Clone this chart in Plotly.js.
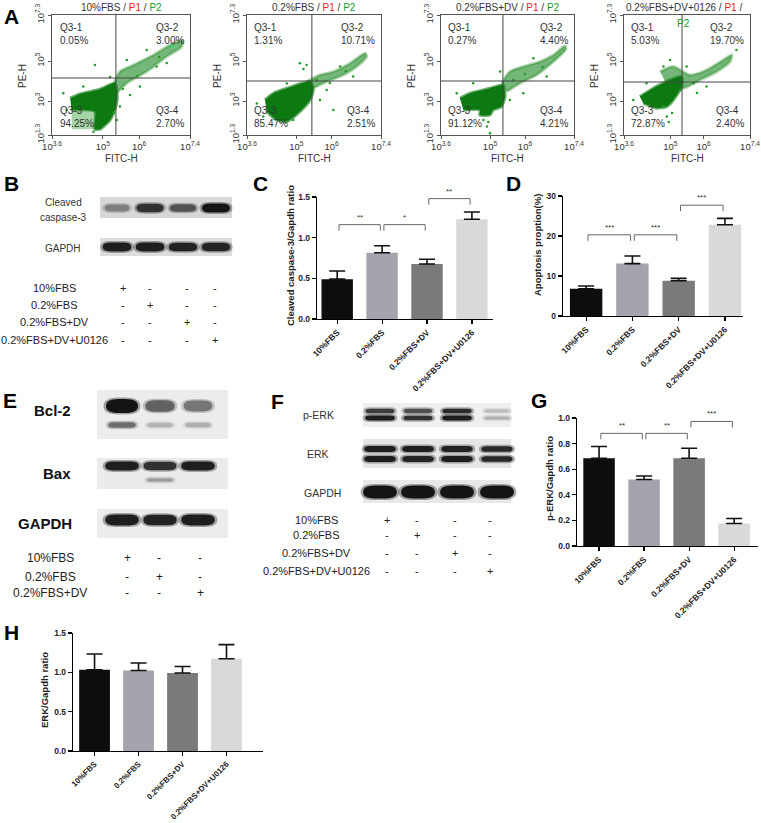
<!DOCTYPE html>
<html><head><meta charset="utf-8">
<script src="https://cdn.plot.ly/plotly-3.0.1.min.js"></script>
<style>html,body{margin:0;padding:0;background:#fff}#fig{width:761px;height:823px}</style>
</head><body><div id="fig"></div><script>
// ================= DATA =================
const flowTitles = ['10%FBS', '0.2%FBS', '0.2%FBS+DV', '0.2%FBS+DV+0126'];
const quadUL = ['0.05%', '1.31%', '0.27%', '5.03%'];
const quadUR = ['3.00%', '10.71%', '4.40%', '19.70%'];
const quadLL = ['94.25%', '85.47%', '91.12%', '72.87%'];
const quadLR = ['2.70%', '2.51%', '4.21%', '2.40%'];
const gateX = [5.36, 5.44, 5.37, 5.35];
const gateY = [4.15, 4.00, 4.00, 3.95];
const flowXTicks = [3.6, 5, 6, 7.4];
const flowXText = ['10<sup>3.6</sup>', '10<sup>5</sup>', '10<sup>6</sup>', '10<sup>7.4</sup>'];
const flowYTicks = [1.3, 3, 5, 7.3];
const flowYText = ['10<sup>1.3</sup>', '10<sup>3</sup>', '10<sup>5</sup>', '10<sup>7.3</sup>'];

// dense population outlines (log10 FITC, log10 PE)
const core1X = [4.10, 4.37, 4.92, 5.33, 5.40, 5.33, 5.20, 4.92, 4.78, 4.78, 4.14];
const core1Y = [3.14, 3.35, 3.59, 3.89, 3.22, 2.55, 2.05, 1.59, 1.59, 2.47, 2.55];
const light1X = [4.14, 4.80, 4.80, 4.14];
const light1Y = [2.55, 2.55, 1.59, 1.59];
const tail1X = [5.29, 5.47, 5.84, 6.39, 6.94, 7.20, 7.17, 6.76, 6.21, 5.66, 5.38];
const tail1Y = [3.80, 4.47, 4.80, 5.30, 5.89, 6.02, 5.72, 5.22, 4.47, 3.89, 3.39];
const dots1X = [3.91, 4.00, 5.38, 5.47, 4.74, 5.75, 6.02, 4.78, 5.20, 6.48, 6.76, 4.46, 5.66, 6.21, 5.55, 5.95, 6.55, 5.30];
const dots1Y = [3.39, 2.55, 2.05, 2.72, 1.46, 3.30, 3.72, 4.80, 4.20, 4.72, 4.90, 3.72, 5.05, 5.55, 3.60, 4.25, 5.20, 2.40];

const core2X = [4.11, 4.35, 4.82, 5.39, 5.48, 5.39, 5.10, 4.73, 4.44, 4.16];
const core2Y = [3.05, 3.39, 3.69, 3.97, 3.55, 3.05, 2.47, 1.97, 2.05, 2.47];
const tail2X = [5.29, 5.67, 6.05, 6.52, 6.95, 6.99, 6.71, 6.33, 5.86, 5.48];
const tail2Y = [3.97, 4.30, 4.47, 4.89, 5.39, 5.22, 4.72, 4.30, 3.97, 3.64];
const dots2X = [3.88, 4.06, 5.10, 5.29, 5.67, 6.05, 5.58, 4.91, 5.86, 6.61, 6.24, 4.73, 5.95, 6.40, 5.20];
const dots2Y = [2.88, 2.22, 4.89, 4.80, 3.05, 2.55, 4.05, 2.05, 3.55, 4.22, 4.72, 3.88, 3.90, 4.50, 4.60];

const core3X = [4.14, 4.43, 5.00, 5.38, 5.43, 5.33, 5.09, 5.00, 4.71, 4.71, 4.24];
const core3Y = [3.14, 3.39, 3.64, 3.80, 3.22, 2.72, 2.55, 2.30, 2.30, 2.55, 2.55];
const tail3X = [5.33, 5.57, 5.95, 6.43, 6.81, 7.14, 7.17, 6.81, 6.33, 5.86, 5.48];
const tail3Y = [3.89, 4.47, 4.72, 4.97, 5.30, 5.75, 5.59, 4.97, 4.30, 3.89, 3.47];
const dots3X = [4.05, 4.91, 5.00, 4.81, 5.57, 5.95, 5.29, 5.67, 6.62, 6.24, 4.52, 4.95, 6.00, 6.50];
const dots3Y = [3.39, 1.72, 1.39, 2.05, 3.05, 3.39, 4.47, 4.05, 4.22, 5.14, 3.89, 1.95, 4.35, 4.70];

const core4X = [4.08, 4.48, 4.99, 5.34, 5.34, 5.09, 4.89, 4.59, 4.18];
const core4Y = [3.22, 3.64, 4.05, 4.22, 3.72, 3.05, 2.72, 2.64, 2.89];
const tail4X = [4.69, 5.09, 5.59, 6.09, 6.59, 6.85, 6.80, 6.40, 5.89, 5.39, 4.89];
const tail4Y = [4.47, 4.72, 4.30, 4.55, 5.05, 5.30, 4.97, 4.47, 4.05, 3.64, 3.80];
const dots4X = [3.88, 4.79, 4.89, 5.29, 5.69, 4.79, 4.99, 5.49, 6.99, 6.09, 4.28, 5.05, 5.80, 4.95];
const dots4Y = [3.05, 2.72, 2.22, 3.55, 3.89, 4.72, 5.05, 4.72, 5.55, 3.72, 3.89, 2.40, 3.40, 1.95];

// western blot band intensities (0 = none, 1 = saturated)
const treatments = ['10%FBS', '0.2%FBS', '0.2%FBS+DV', '0.2%FBS+DV+U0126'];
const casp3Band = [0.45, 0.85, 0.68, 1.0];
const gapdhBandB = [0.95, 0.95, 0.93, 0.92];
const bcl2Upper = [1.0, 0.6, 0.5];
const bcl2Lower = [0.55, 0.18, 0.2];
const baxUpper = [0.95, 0.85, 0.95];
const baxLower = [0, 0.3, 0];
const gapdhBandE = [0.95, 0.93, 0.95];
const perkUpper = [0.8, 0.7, 0.88, 0.15];
const perkLower = [0.95, 0.85, 0.95, 0.2];
const erkUpper = [0.95, 0.95, 0.93, 0.9];
const erkLower = [0.95, 0.92, 0.95, 0.9];
const gapdhBandF = [1.0, 1.0, 1.0, 1.0];

// bar charts
const groups = ['10%FBS', '0.2%FBS', '0.2%FBS+DV', '0.2%FBS+DV+U0126'];
const casp3Mean = [0.49, 0.815, 0.676, 1.226];
const casp3Err = [0.10, 0.085, 0.058, 0.089];
const apopMean = [6.8, 13.1, 8.8, 22.8];
const apopErr = [0.7, 1.9, 0.6, 1.6];
const perkMean = [0.686, 0.52, 0.686, 0.176];
const perkErr = [0.091, 0.027, 0.078, 0.039];
const erkMean = [1.033, 1.024, 0.991, 1.173];
const erkErr = [0.20, 0.094, 0.084, 0.179];
const sigCFrom = [0, 1, 2], sigCTo = [1, 2, 3], sigCY = [1.16, 1.16, 1.48], sigCText = ['**', '*', '**'];
const sigDFrom = [0, 1, 2], sigDTo = [1, 2, 3], sigDY = [20.3, 20.3, 27.7], sigDText = ['***', '***', '***'];
const sigGFrom = [0, 1, 2], sigGTo = [1, 2, 3], sigGY = [0.88, 0.88, 0.973], sigGText = ['**', '**', '***'];

// ================= DRAWING =================
const W = 761, H = 823;
const X = p => p / W, Y = p => 1 - p / H;
const FONT = '"Liberation Sans", Arial, sans-serif';
const layout = {
  width: W, height: H, margin: {l: 0, r: 0, t: 0, b: 0},
  paper_bgcolor: '#fff', plot_bgcolor: 'rgba(0,0,0,0)', showlegend: false,
  font: {family: FONT, color: '#222'}, shapes: [], annotations: [], hovermode: false
};
const data = [];
const S = layout.shapes, A = layout.annotations;
function txt(x, y, text, size, o = {}) {
  A.push(Object.assign({
    xref: 'paper', yref: 'paper', x: X(x), y: Y(y), text, showarrow: false,
    font: {family: FONT, size, color: o.color || '#222', weight: o.weight || 'normal'},
    xanchor: o.xa || 'center', yanchor: o.ya || 'middle', textangle: o.angle || 0
  }, o.extra || {}));
}

// panel letters
[['A', 11, 16], ['B', 11, 183], ['C', 260, 183], ['D', 513, 183], ['E', 10, 400], ['F', 277, 401], ['G', 539, 400], ['H', 11, 632]]
  .forEach(([t, x, y]) => txt(x, y, t, 21, {weight: 'bold', color: '#000'}));

// ---------- Panel A: flow cytometry ----------
const flowBox = [[52, 190], [247, 381], [441, 574], [624, 750]];
const flowCore = [[core1X, core1Y], [core2X, core2Y], [core3X, core3Y], [core4X, core4Y]];
const flowTail = [[tail1X, tail1Y], [tail2X, tail2Y], [tail3X, tail3Y], [tail4X, tail4Y]];
const flowDots = [[dots1X, dots1Y], [dots2X, dots2Y], [dots3X, dots3Y], [dots4X, dots4Y]];
for (let i = 0; i < 4; i++) {
  const id = i === 0 ? '' : String(i + 1);
  const [x0, x1] = flowBox[i];
  const axCommon = {showline: true, mirror: true, linecolor: '#555', linewidth: 1, ticks: 'outside', ticklen: 3,
    tickcolor: '#555', showgrid: false, zeroline: false, fixedrange: true,
    tickfont: {family: FONT, size: 9.5, color: '#333'}};
  layout['xaxis' + id] = Object.assign({domain: [X(x0), X(x1)], range: [3.6, 7.4], anchor: 'y' + id,
    tickmode: 'array', tickvals: flowXTicks, ticktext: flowXText}, axCommon);
  layout['yaxis' + id] = Object.assign({domain: [Y(135), Y(15)], range: [1.3, 7.3], anchor: 'x' + id,
    tickmode: 'array', tickvals: flowYTicks, ticktext: flowYText, tickangle: -90}, axCommon);
  const xa = 'x' + id, ya = 'y' + id;
  data.push({type: 'scatter', x: flowTail[i][0], y: flowTail[i][1], xaxis: xa, yaxis: ya, mode: 'lines', fill: 'toself',
    fillcolor: 'rgba(25,135,30,0.6)', line: {color: 'rgba(25,135,30,0.35)', width: 3, shape: 'spline', smoothing: 0.7}, hoverinfo: 'skip'});
  if (i === 0) data.push({type: 'scatter', x: light1X, y: light1Y, xaxis: xa, yaxis: ya, mode: 'lines', fill: 'toself',
    fillcolor: 'rgba(60,160,60,0.45)', line: {width: 0}, hoverinfo: 'skip'});
  data.push({type: 'scatter', x: flowCore[i][0], y: flowCore[i][1], xaxis: xa, yaxis: ya, mode: 'lines', fill: 'toself',
    fillcolor: '#0c7a10', line: {color: 'rgba(12,122,16,0.6)', width: 3, shape: 'spline', smoothing: 0.6}, hoverinfo: 'skip'});
  data.push({type: 'scatter', x: flowDots[i][0], y: flowDots[i][1], xaxis: xa, yaxis: ya, mode: 'markers',
    marker: {size: 2.5, color: '#1f9a25'}, hoverinfo: 'skip'});
  S.push({type: 'line', xref: xa, yref: ya + ' domain', x0: gateX[i], x1: gateX[i], y0: 0, y1: 1, line: {color: '#444', width: 1}});
  S.push({type: 'line', xref: xa + ' domain', yref: ya, x0: 0, x1: 1, y0: gateY[i], y1: gateY[i], line: {color: '#444', width: 1}});
  const qf = {family: FONT, size: 10, color: '#333'};
  A.push({xref: xa + ' domain', yref: ya + ' domain', x: 0.04, y: 0.96, xanchor: 'left', yanchor: 'top', align: 'left', showarrow: false, font: qf, text: 'Q3-1<br>' + quadUL[i]});
  A.push({xref: xa + ' domain', yref: ya + ' domain', x: 0.97, y: 0.96, xanchor: 'right', yanchor: 'top', align: 'left', showarrow: false, font: qf, text: 'Q3-2<br>' + quadUR[i]});
  A.push({xref: xa + ' domain', yref: ya + ' domain', x: 0.04, y: 0.03, xanchor: 'left', yanchor: 'bottom', align: 'left', showarrow: false, font: qf, text: 'Q3-3<br>' + quadLL[i]});
  A.push({xref: xa + ' domain', yref: ya + ' domain', x: 0.97, y: 0.03, xanchor: 'right', yanchor: 'bottom', align: 'left', showarrow: false, font: qf, text: 'Q3-4<br>' + quadLR[i]});
  const cx = (x0 + x1) / 2;
  const p2 = '<span style="color:#1a9a2a">P2</span>';
  const ttl = flowTitles[i] + ' / <span style="color:#ee1c24">P1</span> /' + (i < 3 ? ' ' + p2 : '');
  txt(i === 3 ? 684 : cx, 8, ttl, 10, {color: '#333'});
  if (i === 3) txt(683, 23, p2, 10);
  txt(cx, 158, 'FITC-H', 10, {color: '#333'});
  txt(x0 - 29, 76, 'PE-H', 10, {color: '#333', angle: -90});
}

// ---------- Western blots ----------
function frame(x0, x1, y0, y1, col) {
  S.push({type: 'rect', xref: 'paper', yref: 'paper', x0: X(x0), x1: X(x1), y0: Y(y1), y1: Y(y0), fillcolor: col, line: {width: 0}});
}
function pill(cx, cy, w, h, col, op) {
  const r = Math.min(h * 0.9, w / 2);
  const x0 = cx - w / 2, x1 = cx + w / 2, y0 = cy - h / 2, y1 = cy + h / 2;
  const p = `M${X(x0 + r)},${Y(y0)} L${X(x1 - r)},${Y(y0)} Q${X(x1)},${Y(y0)} ${X(x1)},${Y(cy)} Q${X(x1)},${Y(y1)} ${X(x1 - r)},${Y(y1)} ` +
    `L${X(x0 + r)},${Y(y1)} Q${X(x0)},${Y(y1)} ${X(x0)},${Y(cy)} Q${X(x0)},${Y(y0)} ${X(x0 + r)},${Y(y0)} Z`;
  S.push({type: 'path', xref: 'paper', yref: 'paper', path: p, fillcolor: col, opacity: op, line: {width: 0}});
}
function bands(lanes, cy, w, h, vals) {
  vals.forEach((v, i) => {
    if (v <= 0) return;
    const g = Math.round(20 + 195 * (1 - v));
    const c = `rgb(${g},${g},${g})`;
    const hh = h * (0.55 + 0.45 * v), ww = w * (0.8 + 0.2 * v);
    pill(lanes[i], cy, ww + 5, hh + 3, c, 0.35);
    pill(lanes[i], cy, ww, hh, c, 1);
  });
}
function table(labels, labelX, rowsY, colsX, size) {
  labels.forEach((lab, r) => {
    txt(labelX, rowsY[r], lab, size);
    colsX.forEach((cx, c) => txt(cx, rowsY[r], r === c ? '+' : '-', size));
  });
}

// Panel B
const lanesB = [117, 150, 183, 216];
frame(100, 232, 197, 218, '#d8d8d8');
bands(lanesB, 208, 28, 9, casp3Band);
frame(100, 232, 238, 256, '#dddddd');
bands(lanesB, 247, 29, 9, gapdhBandB);
txt(63, 203, 'Cleaved', 10, {color: '#333'});
txt(63, 218, 'caspase-3', 10, {color: '#333'});
txt(63, 249, 'GAPDH', 10, {color: '#333'});
table(treatments, 54, [288, 305, 322, 340], [123, 150, 187, 215], 11);

// Panel E
const lanesE = [122, 160, 198];
frame(97, 228, 390, 439, '#ececec');
bands(lanesE, 406, 32, 14, bcl2Upper);
bands(lanesE, 425, 30, 7, bcl2Lower);
frame(97, 228, 458, 489, '#ebebeb');
bands(lanesE, 466, 34, 9, baxUpper);
bands(lanesE, 480, 30, 5, baxLower);
frame(97, 228, 509, 538, '#ececec');
bands(lanesE, 520, 34, 11, gapdhBandE);
txt(52, 410, 'Bcl-2', 15, {color: '#111', weight: 'bold'});
txt(57, 473, 'Bax', 15, {color: '#111', weight: 'bold'});
txt(45, 523, 'GAPDH', 15, {color: '#111', weight: 'bold'});
table(treatments.slice(0, 3), 50, [558, 577, 593], [127, 159, 200], 12);

// Panel F
const lanesF = [380, 418, 457, 497];
frame(363, 511, 403, 427, '#efefef');
bands(lanesF, 411, 30, 5, perkUpper);
bands(lanesF, 418, 30, 5, perkLower);
frame(363, 511, 439, 468, '#e6e6e6');
bands(lanesF, 449, 32, 6, erkUpper);
bands(lanesF, 459, 32, 6, erkLower);
frame(363, 511, 480, 503, '#e8e8e8');
bands(lanesF, 492, 34, 13, gapdhBandF);
txt(318, 415, 'p-ERK', 10.5, {color: '#333'});
txt(318, 454, 'ERK', 10.5, {color: '#333'});
txt(322, 493, 'GAPDH', 10.5, {color: '#333'});
table(treatments, 316, [520, 535, 553, 571], [387, 417, 455, 490], 11);

// ---------- Bar charts ----------
const barColors = ['#0d0d0d', '#a4a4ac', '#7a7a7a', '#d9d9d9'];
const barSpecs = [
  {id: '5', xd: [317, 493], yd: [197, 319], xr: [-0.45, 3.47], yr: [0, 1.5], dtick: 0.5, fmt: '.1f',
    mean: casp3Mean, err: casp3Err, title: 'Cleaved caspase-3/Gapdh ratio', tx: 291, ty: 256,
    sig: [sigCFrom, sigCTo, sigCY, sigCText]},
  {id: '6', xd: [563, 743], yd: [196, 316], xr: [-0.5, 3.39], yr: [0, 30], dtick: 10, fmt: 'd',
    mean: apopMean, err: apopErr, title: 'Apoptosis proption(%)', tx: 537, ty: 245,
    sig: [sigDFrom, sigDTo, sigDY, sigDText]},
  {id: '7', xd: [577, 758], yd: [418, 546], xr: [-0.49, 3.53], yr: [0, 1.0], dtick: 0.2, fmt: '.1f',
    mean: perkMean, err: perkErr, title: 'p-ERK/Gapdh ratio', tx: 549, ty: 479,
    sig: [sigGFrom, sigGTo, sigGY, sigGText]},
  {id: '8', xd: [73, 263], yd: [633, 751], xr: [-0.49, 3.83], yr: [0, 1.5], dtick: 0.5, fmt: '.1f',
    mean: erkMean, err: erkErr, title: 'ERK/Gapdh ratio', tx: 44, ty: 690, sig: null}
];
barSpecs.forEach(b => {
  const bold = {family: FONT, size: b.id === '8' ? 8 : 8.5, color: '#222', weight: 'bold'};
  layout['xaxis' + b.id] = {domain: [X(b.xd[0]), X(b.xd[1])], range: b.xr, anchor: 'y' + b.id,
    showline: true, linecolor: '#000', linewidth: 1.3, ticks: 'outside', ticklen: 4, tickwidth: 1.2, tickcolor: '#000',
    tickmode: 'array', tickvals: [0, 1, 2, 3], ticktext: groups, tickangle: -45, tickfont: bold,
    showgrid: false, zeroline: false, fixedrange: true};
  layout['yaxis' + b.id] = {domain: [Y(b.yd[1]), Y(b.yd[0])], range: b.yr, anchor: 'x' + b.id,
    showline: true, linecolor: '#000', linewidth: 1.3, ticks: 'outside', ticklen: 4, tickwidth: 1.2, tickcolor: '#000',
    dtick: b.dtick, tick0: 0, tickformat: b.fmt, tickfont: {family: FONT, size: 8.5, color: '#222', weight: 'bold'},
    showgrid: false, zeroline: false, fixedrange: true};
  data.push({type: 'bar', x: [0, 1, 2, 3], y: b.mean, xaxis: 'x' + b.id, yaxis: 'y' + b.id, width: 0.7,
    marker: {color: barColors, line: {width: 0}},
    error_y: {type: 'data', symmetric: false, array: b.err, arrayminus: [0, 0, 0, 0], color: '#111', thickness: 1.6, width: 8},
    hoverinfo: 'skip'});
  txt(b.tx, b.ty, b.title, 9.5, {weight: 'bold', angle: -90});
  if (b.sig) {
    const [from, to, ys, labs] = b.sig;
    const drop = 6 / (b.yd[1] - b.yd[0]) * (b.yr[1] - b.yr[0]);
    from.forEach((a, k) => {
      const x0 = a + 0.04, x1 = to[k] - 0.04, yy = ys[k];
      S.push({type: 'path', xref: 'x' + b.id, yref: 'y' + b.id,
        path: `M${x0},${yy - drop} L${x0},${yy} L${x1},${yy} L${x1},${yy - drop}`, line: {color: '#666', width: 1}});
      A.push({xref: 'x' + b.id, yref: 'y' + b.id, x: (a + to[k]) / 2, y: yy, yanchor: 'bottom', yshift: 1,
        showarrow: false, text: labs[k], font: {family: FONT, size: 8, color: '#333'}});
    });
  }
});

Plotly.newPlot('fig', data, layout, {staticPlot: true, displayModeBar: false});
</script></body></html>
